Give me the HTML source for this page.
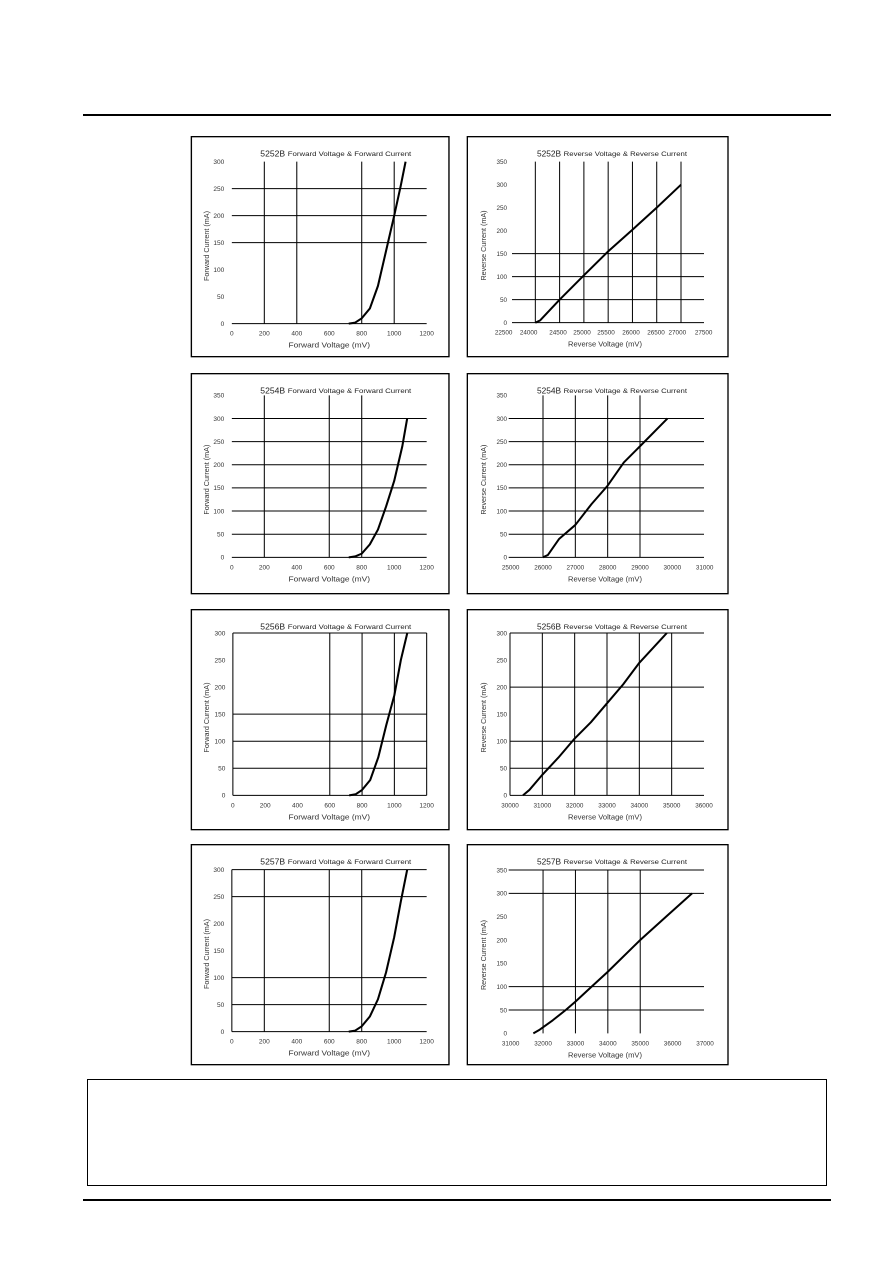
<!DOCTYPE html>
<html><head><meta charset="utf-8"><style>
html,body{margin:0;padding:0;background:#fff;}
body{width:892px;height:1263px;position:relative;overflow:hidden;font-family:"Liberation Sans",sans-serif;}
.hl{position:absolute;background:#000;}
svg.c{position:absolute;left:190px;width:540px;height:225px;}
</style></head><body>
<div class="hl" style="left:83px;top:114px;width:748px;height:2px"></div>
<div class="hl" style="left:83px;top:1199px;width:748px;height:2px"></div>
<div style="position:absolute;left:87px;top:1079px;width:738px;height:105px;border:1.5px solid #000"></div>
<div id="wrap"></div>
<script>
var rows=[135,372,608,843];
var charts=[
[{title:"5252B",sub:"Forward Voltage & Forward Current",yl:"Forward Current (mA)",xl:"Forward Voltage (mV)",x0:0,x1:1200,px0:122,px1:690,xs:200,ytop:300,ys:50,py0:566,pyt:80,vg:[200,400,800,1000],hg:[250,200,150,0],hx:[122,690],vy:[80,566],
 cv:[[720,0],[760,2],[800,10],[850,28],[900,70],[950,135],[1000,200],[1040,255],[1070,300]]},
 {title:"5252B",sub:"Reverse Voltage & Reverse Current",yl:"Reverse Current (mA)",xl:"Reverse Voltage (mV)",x0:24000,x1:27000,px0:1036,px1:1473,xs:500,ytop:350,ys:50,py0:563,pyt:80,vg:[24000,24500,25000,25500,26000,26500,27000],hg:[150,100,50,0],hx:[966,1542],vy:[80,563],
 labs:[[22500,941],[24000,1016],[24500,1104],[25000,1176],[25500,1248],[26000,1323],[26500,1398],[27000,1462],[27500,1541]],
 cv:[[24000,0],[24100,5],[24500,50],[25000,103],[25500,155],[26000,202],[26500,250],[27000,300]]}],
[{title:"5254B",sub:"Forward Voltage & Forward Current",yl:"Forward Current (mA)",xl:"Forward Voltage (mV)",x0:0,x1:1200,px0:122,px1:690,xs:200,ytop:350,ys:50,py0:556,pyt:70,vg:[200,600,800],hg:[300,250,200,150,100,50,0],hx:[122,690],vy:[70,556],
 cv:[[720,0],[760,2],[800,8],[850,28],[900,60],[950,110],[1000,165],[1050,240],[1080,300]]},
 {title:"5254B",sub:"Reverse Voltage & Reverse Current",yl:"Reverse Current (mA)",xl:"Reverse Voltage (mV)",x0:25000,x1:31000,px0:962,px1:1544,xs:1000,ytop:350,ys:50,py0:556,pyt:70,vg:[26000,27000,28000,29000],hg:[300,250,200,150,100,50,0],hx:[956,1542],vy:[70,556],
 cv:[[26000,0],[26150,5],[26500,40],[27000,70],[27500,115],[28000,155],[28500,205],[29000,240],[29850,300]]}],
[{title:"5256B",sub:"Forward Voltage & Forward Current",yl:"Forward Current (mA)",xl:"Forward Voltage (mV)",x0:0,x1:1200,px0:125,px1:690,xs:200,ytop:300,ys:50,py0:562,pyt:75,vg:[0,600,800,1000,1200],hg:[300,150,100,50,0],hx:[125,690],vy:[75,562],
 cv:[[720,0],[760,2],[800,10],[850,28],[900,70],[950,130],[1000,185],[1040,250],[1080,300]]},
 {title:"5256B",sub:"Reverse Voltage & Reverse Current",yl:"Reverse Current (mA)",xl:"Reverse Voltage (mV)",x0:30000,x1:36000,px0:960,px1:1542,xs:1000,ytop:300,ys:50,py0:562,pyt:75,vg:[30000,31000,32000,33000,34000,35000],hg:[300,200,100,50,0],hx:[960,1542],vy:[75,562],
 cv:[[30400,0],[30600,10],[31000,38],[31500,70],[32000,105],[32500,135],[33000,170],[33500,205],[34000,245],[34850,300]]}],
[{title:"5257B",sub:"Forward Voltage & Forward Current",yl:"Forward Current (mA)",xl:"Forward Voltage (mV)",x0:0,x1:1200,px0:122,px1:690,xs:200,ytop:300,ys:50,py0:566,pyt:80,vg:[0,200,600,800],hg:[300,250,100,50,0],hx:[122,690],vy:[80,566],
 cv:[[720,0],[760,2],[800,10],[850,28],[900,60],[950,110],[1000,175],[1040,240],[1080,300]]},
 {title:"5257B",sub:"Reverse Voltage & Reverse Current",yl:"Reverse Current (mA)",xl:"Reverse Voltage (mV)",x0:31000,x1:37000,px0:962,px1:1545,xs:1000,ytop:350,ys:50,py0:571,pyt:81,vg:[32000,33000,34000,35000],hg:[350,300,100,50],hx:[956,1542],vy:[81,571],
 cv:[[31700,0],[31900,8],[32300,28],[32700,50],[33000,68],[33500,100],[34000,132],[35000,200],[35800,250],[36600,300]]}]
];
var out="";
rows.forEach(function(ry,ri){
 var s='<svg class="c" style="top:'+ry+'px" viewBox="0 0 1620 675" xmlns="http://www.w3.org/2000/svg">';
 s+='<rect x="832" y="5" width="782" height="660" fill="#fff" stroke="#000" stroke-width="4"/>';
 charts[ri].forEach(function(c,ci){
  if(ci==0){s+='<g transform="scale(1.029,1)"><rect x="4" y="5" width="751" height="660" fill="#fff" stroke="#000" stroke-width="4"/>';}
  else s+='<g>';
  var X=function(v){return c.px0+(v-c.x0)*(c.px1-c.px0)/(c.x1-c.x0);};
  var Y=function(v){return c.py0-(v)*(c.py0-c.pyt)/c.ytop;};
  c.vg.forEach(function(v){s+='<line x1="'+X(v)+'" x2="'+X(v)+'" y1="'+c.vy[0]+'" y2="'+c.vy[1]+'" stroke="#000" stroke-width="3"/>';});
  c.hg.forEach(function(v){s+='<line x1="'+c.hx[0]+'" x2="'+c.hx[1]+'" y1="'+Y(v)+'" y2="'+Y(v)+'" stroke="#000" stroke-width="3"/>';});
  var labs=c.labs;
  if(!labs){labs=[];for(var v=c.x0;v<=c.x1+1;v+=c.xs)labs.push([v,X(v)]);}
  labs.forEach(function(l){s+='<text x="'+l[1]+'" y="'+(c.py0+36)+'" font-size="19" text-anchor="middle" fill="#333">'+l[0]+'</text>';});
  var lx=ci==0?c.px0-22:951;
  for(var v=0;v<=c.ytop;v+=c.ys){s+='<text x="'+lx+'" y="'+(Y(v)+7)+'" font-size="19" text-anchor="end" fill="#333">'+v+'</text>';}
  var pts=c.cv.map(function(p){return X(p[0]).toFixed(1)+','+Y(p[1]).toFixed(1);}).join(' ');
  s+='<polyline points="'+pts+'" fill="none" stroke="#000" stroke-width="6" stroke-linejoin="round"/>';
  var tx=ci==0?205:1041;
  s+='<text x="'+tx+'" y="64" font-size="25" fill="#222">'+c.title+'</text>';
  s+='<text x="'+(tx+80)+'" y="63" font-size="20" fill="#222" textLength="'+(ci==0?360:370)+'" lengthAdjust="spacingAndGlyphs">'+c.sub.replace("&","&amp;")+'</text>';
  var yx=ci==0?56:888, mid=(c.vy[0]+c.vy[1])/2+10;
  s+='<text x="'+yx+'" y="'+mid+'" font-size="21" text-anchor="middle" fill="#333" textLength="210" lengthAdjust="spacingAndGlyphs" transform="rotate(-90 '+yx+' '+mid+')">'+c.yl+'</text>';
  var xm=ci==0?406:1245;
  s+='<text x="'+xm+'" y="'+(c.py0+72)+'" font-size="21" text-anchor="middle" fill="#333" textLength="'+(ci==0?238:222)+'" lengthAdjust="spacingAndGlyphs">'+c.xl+'</text>';
  s+='</g>';
 });
 s+='</svg>';
 out+=s;
});
document.getElementById("wrap").innerHTML=out;
</script>
</body></html>
